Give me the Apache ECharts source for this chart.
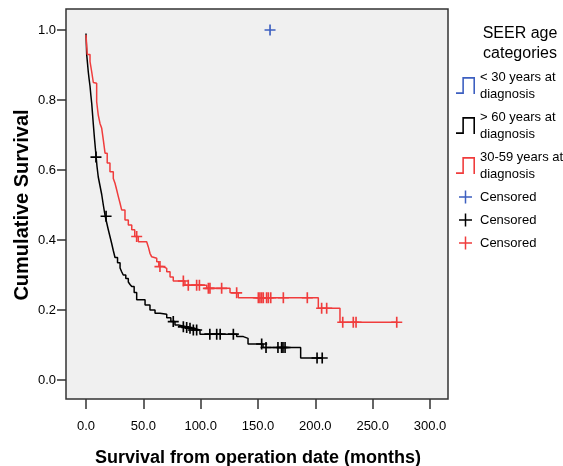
<!DOCTYPE html>
<html>
<head>
<meta charset="utf-8">
<script src="https://cdn.jsdelivr.net/npm/echarts@6/dist/echarts.min.js"></script>
<style>
  html, body { margin: 0; padding: 0; background: #fff; }
  #chart { width: 563px; height: 466px; }
</style>
</head>
<body>
<div id="chart"></div>
<script>
// survival curve steps (time in months, cumulative survival)
var over60Times = [0, 0.6, 1.3, 2.0, 2.7, 3.5, 4.2, 5.0, 5.7, 6.4, 7.4, 8.5, 9.6, 10.7, 12.2, 13.7, 15.1, 16.6, 18.0, 19.4, 20.9, 22.4, 23.8, 25.3, 27.5, 29.7, 31.0, 32.5, 34.7, 36.9, 38.4, 39.9, 42.0, 44.2, 51.5, 55.8, 60.2, 64.5, 70.4, 74.0, 77.6, 80.5, 87.8, 90.7, 93.6, 99.4, 131.4, 137.2, 141.3, 154.4, 187.2, 206];
var over60Surv = [0.99, 0.93, 0.905, 0.88, 0.86, 0.84, 0.815, 0.79, 0.76, 0.73, 0.69, 0.65, 0.61, 0.58, 0.555, 0.53, 0.50, 0.47, 0.45, 0.43, 0.41, 0.39, 0.37, 0.35, 0.335, 0.32, 0.31, 0.30, 0.29, 0.28, 0.273, 0.267, 0.25, 0.229, 0.214, 0.200, 0.191, 0.188, 0.178, 0.167, 0.157, 0.152, 0.150, 0.148, 0.143, 0.131, 0.124, 0.119, 0.103, 0.093, 0.063, 0.063];

var midTimes = [0, 1.1, 3.5, 5.0, 6.4, 7.8, 9.3, 10.7, 12.2, 13.7, 15.1, 16.6, 18.5, 20.9, 23.8, 25.3, 26.8, 28.2, 29.7, 31.1, 34.0, 36.9, 39.9, 42.5, 45.6, 52.9, 54.3, 55.8, 57.3, 58.7, 61.7, 63.5, 67.4, 70.4, 73.3, 76.1, 86.3, 105.3, 125.6, 132.8, 202.6, 221.5, 271];
var midSurv = [0.986, 0.93, 0.91, 0.88, 0.85, 0.848, 0.795, 0.757, 0.733, 0.719, 0.686, 0.648, 0.62, 0.595, 0.576, 0.562, 0.543, 0.524, 0.505, 0.486, 0.457, 0.443, 0.429, 0.41, 0.395, 0.391, 0.381, 0.362, 0.352, 0.348, 0.338, 0.324, 0.319, 0.309, 0.294, 0.283, 0.271, 0.262, 0.249, 0.235, 0.205, 0.165, 0.165];

// censored cases
var under30CensTimes = [160.5];
var under30CensSurv = [1.0];
var over60CensTimes = [8.7, 17.5, 76.1, 84.9, 87.8, 90.7, 93.6, 96.5, 108, 114, 117, 128.5, 153.2, 157, 167.4, 170.6, 171.8, 173.6, 201.5, 206];
var over60CensSurv = [0.637, 0.468, 0.167, 0.152, 0.150, 0.148, 0.143, 0.143, 0.131, 0.131, 0.131, 0.131, 0.103, 0.093, 0.093, 0.093, 0.093, 0.093, 0.063, 0.063];
var midCensTimes = [44.2, 64.5, 84.9, 89.2, 96.5, 98.9, 106.7, 108.1, 118.3, 131.4, 150.3, 151.7, 153.2, 154.6, 157.5, 159, 161.1, 172.1, 193, 205.5, 209.9, 223.9, 233.1, 235.5, 271];
var midCensSurv = [0.41, 0.324, 0.283, 0.271, 0.271, 0.271, 0.262, 0.262, 0.262, 0.249, 0.235, 0.235, 0.235, 0.235, 0.235, 0.235, 0.235, 0.235, 0.235, 0.205, 0.205, 0.165, 0.165, 0.165, 0.165];

var xTicks = [0, 50, 100, 150, 200, 250, 300];
var yTicks = [0, 0.2, 0.4, 0.6, 0.8, 1.0];

var BLUE = '#3d5fc0', BLACK = '#000000', RED = '#f03c3c';
var FONT = 'Liberation Sans, Arial, sans-serif';

function zip(a, b) {
    return a.map(function (v, i) { return [v, b[i]]; });
}

var plusPath = 'path://M4.25,0h1.5v4.25h4.25v1.5h-4.25v4.25h-1.5v-4.25h-4.25v-1.5h4.25z';
// legend plus, padded so it does not fill the whole icon box
var plusLegend = 'path://M0,0h0.01v0.01z M16.99,16.99h0.01v0.01z M7.75,2h1.5v5.75h5.75v1.5h-5.75v5.75h-1.5v-5.75h-5.75v-1.5h5.75z';
var stepIcon = 'path://M0,14.5L6,14.5L6,0L18,0L18,16L16.5,16L16.5,1.5L7.5,1.5L7.5,16L0,16Z';

var legendNames = {
    lt30: '< 30 years at\ndiagnosis',
    gt60: '> 60 years at\ndiagnosis',
    mid: '30-59 years at\ndiagnosis',
    cLt30: 'Censored',
    cGt60: 'Censored',
    cMid: 'Censored'
};

var titleStyle = { fontFamily: FONT, fontSize: 16, fontWeight: 'normal', color: '#000' };

var chart = echarts.init(document.getElementById('chart'));

var option = {
    animation: false,
    backgroundColor: '#ffffff',
    title: [
        { text: 'SEER age', left: 520, top: 25.5, padding: 0, textAlign: 'center', textStyle: titleStyle },
        { text: 'categories', left: 520, top: 46, padding: 0, textAlign: 'center', textStyle: titleStyle }
    ],
    legend: {
        orient: 'vertical',
        left: 456,
        top: 68.5,
        padding: 0,
        itemWidth: 19,
        itemHeight: 17,
        itemGap: 6,
        selectedMode: false,
        itemStyle: { borderWidth: 0 },
        textStyle: { fontFamily: FONT, fontSize: 13, color: '#000', lineHeight: 17 },
        formatter: function (name) { return legendNames[name]; },
        data: [
            { name: 'lt30', icon: stepIcon },
            { name: 'gt60', icon: stepIcon },
            { name: 'mid', icon: stepIcon },
            { name: 'cLt30', icon: plusLegend },
            { name: 'cGt60', icon: plusLegend },
            { name: 'cMid', icon: plusLegend }
        ]
    },
    grid: [
        // data area: 0..300 months, 0..1 survival
        { left: 86, top: 30, width: 344, height: 350, show: false, outerBoundsMode: 'none', containLabel: false },
        // plot frame with grey background
        { left: 66, top: 9, width: 382, height: 390, show: true, backgroundColor: '#f0f0f0', borderColor: '#333', borderWidth: 1.5, z: 0, outerBoundsMode: 'none' }
    ],
    xAxis: [
        {
            type: 'value', gridIndex: 0, min: 0, max: 300, interval: 50,
            position: 'bottom', offset: 19,
            name: 'Survival from operation date (months)',
            nameLocation: 'middle', nameGap: 50, nameMoveOverlap: false,
            nameTextStyle: { fontFamily: FONT, fontSize: 18, fontWeight: 'bold', color: '#000' },
            axisLine: { show: false, onZero: false },
            axisTick: { show: true, inside: false, length: 10, lineStyle: { color: '#333', width: 1.5 } },
            axisLabel: {
                margin: 21, fontFamily: FONT, fontSize: 13, color: '#000',
                formatter: function (v) { return xTicks.indexOf(v) >= 0 ? v.toFixed(1) : ''; }
            },
            splitLine: { show: false }
        },
        { type: 'value', gridIndex: 1, show: false, min: 0, max: 1 }
    ],
    yAxis: [
        {
            type: 'value', gridIndex: 0, min: 0, max: 1, interval: 0.2,
            position: 'left', offset: 20,
            name: 'Cumulative Survival',
            nameLocation: 'middle', nameGap: 34, nameMoveOverlap: false,
            nameTextStyle: { fontFamily: FONT, fontSize: 20, fontWeight: 'bold', color: '#000' },
            axisLine: { show: false, onZero: false },
            axisTick: { show: true, inside: false, length: 9, lineStyle: { color: '#333', width: 1.5 } },
            axisLabel: {
                margin: 10, fontFamily: FONT, fontSize: 13, color: '#000',
                formatter: function (v) { return v.toFixed(1); }
            },
            splitLine: { show: false }
        },
        { type: 'value', gridIndex: 1, show: false, min: 0, max: 1 }
    ],
    series: [
        {
            name: 'lt30', type: 'line', step: 'end', data: [], symbol: 'none',
            itemStyle: { color: BLUE }, lineStyle: { color: BLUE, width: 1.5 }
        },
        {
            name: 'gt60', type: 'line', step: 'end', data: zip(over60Times, over60Surv), symbol: 'none',
            itemStyle: { color: BLACK }, lineStyle: { color: BLACK, width: 1.5 }, z: 3
        },
        {
            name: 'mid', type: 'line', step: 'end', data: zip(midTimes, midSurv), symbol: 'none',
            itemStyle: { color: RED }, lineStyle: { color: RED, width: 1.5 }, z: 3
        },
        {
            name: 'cLt30', type: 'scatter', data: zip(under30CensTimes, under30CensSurv),
            symbol: plusPath, symbolSize: 11, clip: false, itemStyle: { color: BLUE, opacity: 1 }, z: 4
        },
        {
            name: 'cGt60', type: 'scatter', data: zip(over60CensTimes, over60CensSurv),
            symbol: plusPath, symbolSize: 11, clip: false, itemStyle: { color: BLACK, opacity: 1 }, z: 4
        },
        {
            name: 'cMid', type: 'scatter', data: zip(midCensTimes, midCensSurv),
            symbol: plusPath, symbolSize: 11, clip: false, itemStyle: { color: RED, opacity: 1 }, z: 4
        }
    ]
};

chart.setOption(option);
</script>
</body>
</html>
